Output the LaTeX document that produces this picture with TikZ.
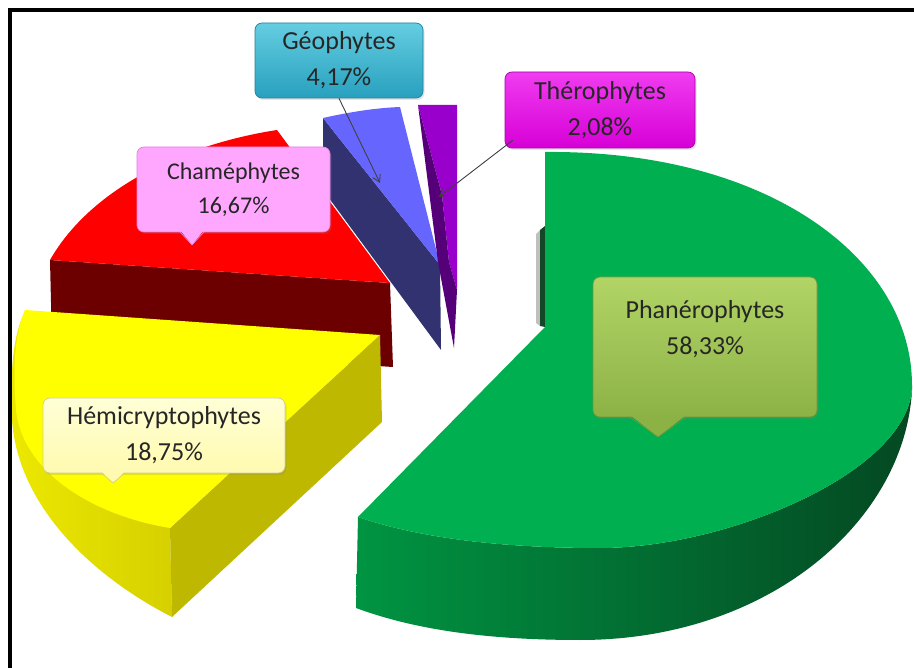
\documentclass[tikz,border=0pt]{standalone}
\usepackage{fontspec}
\setmainfont{Carlito}
\usetikzlibrary{arrows.meta,shadows}
\definecolor{gtop}{RGB}{0,176,80}
\definecolor{gsa}{RGB}{0,148,66}
\definecolor{gsb}{RGB}{0,108,50}
\definecolor{gsc}{RGB}{4,72,34}
\definecolor{gsliver}{RGB}{20,70,40}
\definecolor{ytop}{RGB}{255,255,0}
\definecolor{ysa}{RGB}{236,232,0}
\definecolor{ysb}{RGB}{214,208,0}
\definecolor{ycut}{RGB}{190,185,0}
\definecolor{rtop}{RGB}{255,0,0}
\definecolor{rcut}{RGB}{108,0,0}
\definecolor{btop}{RGB}{102,102,255}
\definecolor{bcut}{RGB}{50,50,112}
\definecolor{ptop}{RGB}{153,0,204}
\definecolor{pcut}{RGB}{85,0,120}
\definecolor{geoT}{RGB}{100,205,225}
\definecolor{geoB}{RGB}{40,160,190}
\definecolor{geoD}{RGB}{30,130,160}
\definecolor{therT}{RGB}{240,60,240}
\definecolor{therB}{RGB}{215,0,215}
\definecolor{therD}{RGB}{170,0,170}
\definecolor{chamF}{RGB}{255,166,255}
\definecolor{chamD}{RGB}{225,130,225}
\definecolor{hemiT}{RGB}{255,255,215}
\definecolor{hemiB}{RGB}{255,250,175}
\definecolor{hemiD}{RGB}{210,205,150}
\definecolor{phanT}{RGB}{178,212,102}
\definecolor{phanB}{RGB}{140,178,70}
\definecolor{phanD}{RGB}{115,150,55}
\tikzset{
  lbl/.style={rounded corners=7pt, align=center, inner sep=0pt, line width=0.7pt,
    font=\fontsize{26}{36}\selectfont, text=black!85,
    drop shadow={opacity=0.22, shadow xshift=1.5pt, shadow yshift=-2pt}},
  conn/.style={draw=black!75, line width=0.9pt, -{Straight Barb[length=7pt,width=8pt]}}
}
\begin{document}
\begin{tikzpicture}[x=1pt,y=-1pt]
\useasboundingbox (0,0) rectangle (914,668);
\fill[white] (0,0) rectangle (914,668);

% red slice (Chamephytes)
\fill[rcut] (50,260) -- (390,283) -- (393,367) -- (52,345) -- cycle;
\fill[rtop] (390,283) -- (50,260) .. controls (90,190) and (180,145) .. (277,130) -- cycle;

% yellow slice (Hemicryptophytes)
\shade[left color=ysa, right color=ysb] (25,312) .. controls (12,335) and (10,380) .. (12,420)
  .. controls (18,505) and (90,575) .. (172,617) -- (170,528) -- cycle;
\fill[ycut] (380,335) -- (170,528) -- (172,617) -- (382,422) -- cycle;
\fill[ytop] (380,335) -- (25,310) .. controls (14,335) and (13,370) .. (16,410)
  .. controls (22,470) and (90,515) .. (170,528) -- cycle;

% blue slice (Geophytes)
\fill[bcut] (323,118) -- (440,265) -- (441,350) -- (323,190) -- cycle;
\fill[btop] (323,118) .. controls (350,112) and (375,108) .. (400,107) -- (440,265) -- cycle;

% purple slice (Therophytes)
\fill[ptop] (418,105) -- (457,105) -- (457,290) -- (449,262) -- (442,195) -- cycle;
\fill[pcut] (418,105) -- (442,195) -- (449,262) -- (457,290) -- (454,348) -- (438,262) -- cycle;

% green slice (Phanerophytes)
\shade[left color=gsa, middle color=gsb, right color=gsc]
  (358,517) -- (356,608) .. controls (410,628) and (480,640) .. (580,640)
  .. controls (770,640) and (905,520) .. (912,390) -- (912,385)
  .. controls (912,470) and (730,548) .. (600,548)
  .. controls (500,548) and (420,538) .. (358,517) -- cycle;
\fill[black!25] (536,234) -- (540,230) -- (540,326) -- (536,323) -- cycle;
\fill[gsliver] (540,230) -- (545,226) -- (545,327) -- (540,326) -- cycle;
\fill[gtop] (545,327) -- (545,152) .. controls (770,150) and (912,260) .. (912,385)
  .. controls (912,470) and (730,548) .. (600,548)
  .. controls (500,548) and (420,538) .. (358,517) -- cycle;

% labels
\node[lbl, top color=geoT, bottom color=geoB, draw=geoD, minimum width=168pt, minimum height=75pt]
  (geo) at (339,60.5) {Géophytes\\4,17\%};
\node[lbl, top color=therT, bottom color=therB, draw=therD, minimum width=190pt, minimum height=76pt]
  (ther) at (600,110) {Thérophytes\\2,08\%};
\node[lbl, fill=chamF, draw=chamD, minimum width=193pt, minimum height=85pt,
  font=\fontsize{24}{34}\selectfont] (cham) at (233.5,189.5) {Chaméphytes\\16,67\%};
\fill[chamF] (180,230) -- (192,245) -- (204,230) -- cycle;
\draw[chamD, line width=0.7pt] (180,232) -- (192,245) -- (204,232);
\node[lbl, top color=hemiT, bottom color=hemiB, draw=hemiD, minimum width=242pt, minimum height=75pt]
  (hemi) at (164,435.5) {Hémicryptophytes\\18,75\%};
\fill[hemiB] (101,471) -- (113,483) -- (125,471) -- cycle;
\draw[hemiD, line width=0.7pt] (101,473) -- (113,483) -- (125,473);
\node[lbl, top color=phanT, bottom color=phanB, draw=phanD, minimum width=224pt, minimum height=140pt,
  text depth=40pt] (phan) at (705,347) {Phanérophytes\\58,33\%};
\fill[phanB] (630,415) -- (658,437) -- (686,415) -- cycle;
\draw[phanD, line width=0.7pt] (630,417) -- (658,437) -- (686,417);

% connectors
\coordinate (geoTip) at (380,183);
\coordinate (therTip) at (439,197);
\draw[conn] (geo.south) -- (geoTip);
\draw[conn] ([xshift=8pt,yshift=8pt]ther.south west) -- (therTip);

% frame
\draw[line width=3.5pt] (10,668) -- (10,10) -- (914,10);
\end{tikzpicture}
\end{document}
